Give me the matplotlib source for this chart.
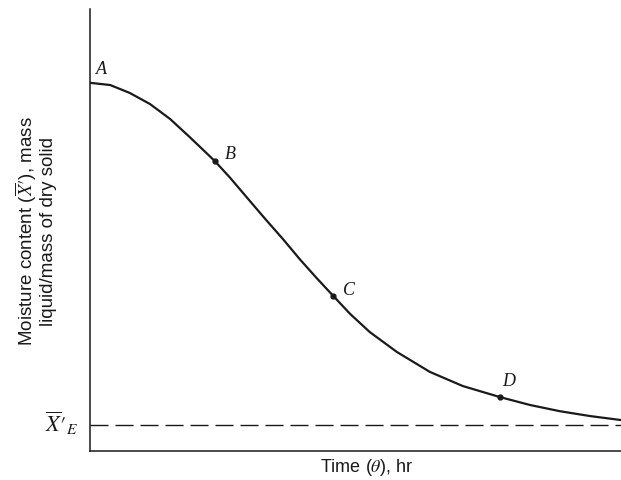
import matplotlib
matplotlib.use("Agg")
import matplotlib.pyplot as plt

# --- Data (arbitrary units) ---
time_hr = [0.00, 0.38, 0.75, 1.13, 1.51, 1.88, 2.35, 2.64, 2.98, 3.30,
           3.63, 3.95, 4.27, 4.58, 4.90, 5.27, 5.78, 6.40, 7.02, 7.72,
           8.29, 8.85, 9.42, 10.00]
moisture = [8.33, 8.28, 8.10, 7.85, 7.51, 7.10, 6.56, 6.18, 5.70, 5.25,
            4.80, 4.34, 3.91, 3.51, 3.10, 2.69, 2.24, 1.79, 1.47, 1.22,
            1.04, 0.90, 0.79, 0.70]

point_labels = ["A", "B", "C", "D"]
point_time = [0.00, 2.35, 4.58, 7.72]
point_moisture = [8.33, 6.56, 3.51, 1.22]

x_equilibrium = 0.59

plt.rcParams['font.family'] = ['Liberation Sans', 'DejaVu Sans']
plt.rcParams['mathtext.fontset'] = 'stix'

fig = plt.figure(figsize=(6.21, 4.81), dpi=100)
ax = fig.add_axes([90 / 621, 29 / 481, 531 / 621, 442 / 481])

ax.plot(time_hr, moisture, color='#1a1a1a', lw=1.6, solid_capstyle='round')
ax.plot(point_time[1:], point_moisture[1:], 'o', color='#1a1a1a', ms=3.5)
ax.axhline(x_equilibrium, color='#1a1a1a', lw=1.0, dashes=(13, 5))

# point labels A..D, offset up-right of each point
offsets = [(0.12, 0.14), (0.19, -0.03), (0.19, -0.04), (0.04, 0.19)]
for lab, t, m, (dx, dy) in zip(point_labels, point_time, point_moisture, offsets):
    ax.text(t + dx, m + dy, lab, family='Liberation Serif', style='italic',
            fontsize=13, color='#1a1a1a', ha='left', va='bottom')

ax.set_xlim(0, 10)
ax.set_ylim(0, 10)
ax.set_xticks([])
ax.set_yticks([])
for side in ['top', 'right']:
    ax.spines[side].set_visible(False)
for side in ['left', 'bottom']:
    ax.spines[side].set_linewidth(1.1)
    ax.spines[side].set_color('#1a1a1a')

ax.text(-0.22, x_equilibrium + 0.05, r"$\overline{X}\prime_{E}$", fontsize=16,
        ha='right', va='center', color='#1a1a1a')

fig.text(367 / 621, 1 - 468 / 481, r"Time ($\theta$), hr", fontsize=13,
         ha='center', va='center', color='#1a1a1a')
fig.text(35 / 621, 1 - 231 / 481,
         "Moisture content (" + r"$\overline{X}\prime$" + "), mass\nliquid/mass of dry solid",
         rotation=90, ha='center', va='center', fontsize=13.5,
         linespacing=1.05, color='#1a1a1a', multialignment='center')

fig.savefig("out.png", dpi=100)
